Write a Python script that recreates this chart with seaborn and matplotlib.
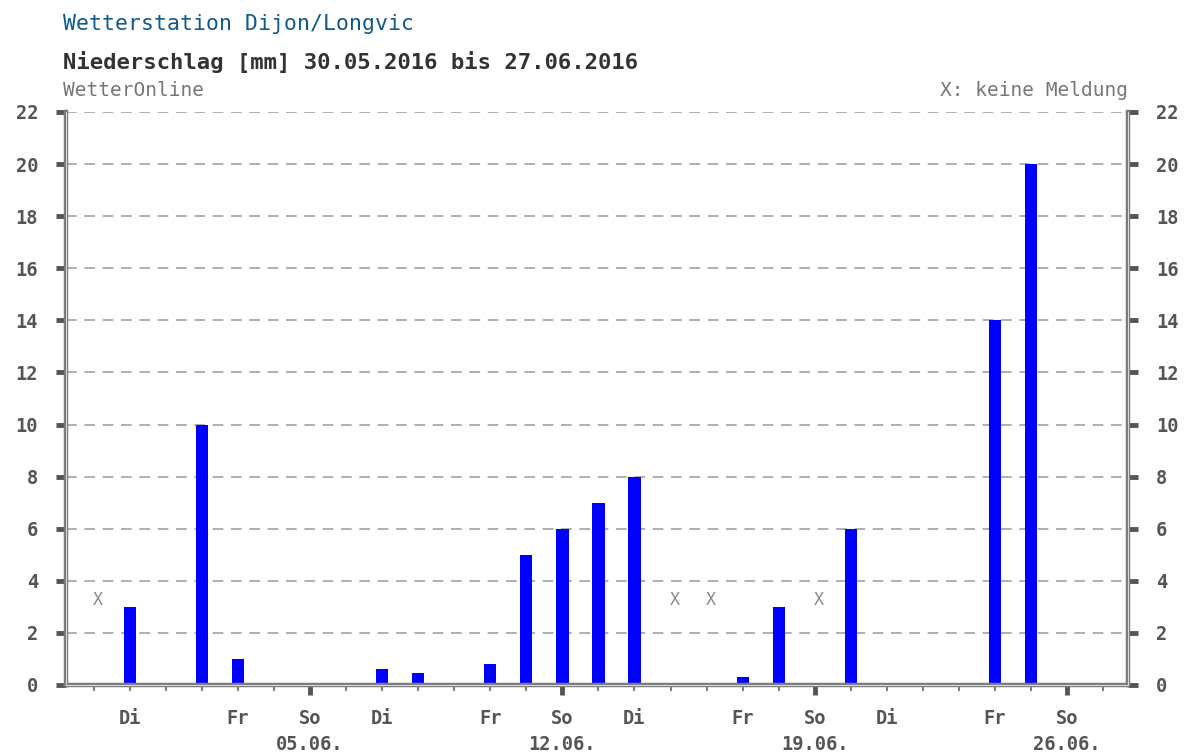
import numpy as np
import pandas as pd
import matplotlib
matplotlib.use("Agg")
import matplotlib.pyplot as plt
from matplotlib.ticker import FixedLocator, FixedFormatter
import seaborn as sns

# ---- data ----
days = ["30.05.", "31.05.", "01.06.", "02.06.", "03.06.", "04.06.", "05.06.",
        "06.06.", "07.06.", "08.06.", "09.06.", "10.06.", "11.06.", "12.06.",
        "13.06.", "14.06.", "15.06.", "16.06.", "17.06.", "18.06.", "19.06.",
        "20.06.", "21.06.", "22.06.", "23.06.", "24.06.", "25.06.", "26.06.",
        "27.06."]
weekdays = ["Mo", "Di", "Mi", "Do", "Fr", "Sa", "So"] * 5
precip = [np.nan, 3.0, 0.0, 10.0, 1.0, 0.0, 0.0,
          0.0, 0.6, 0.45, 0.0, 0.8, 5.0, 6.0,
          7.0, 8.0, np.nan, np.nan, 0.3, 3.0, np.nan,
          6.0, 0.0, 0.0, 0.0, 14.0, 20.0, 0.0,
          0.0]
labelled_days = ["Di", "Fr", "So"]
yticks = list(range(0, 23, 2))

title = "Wetterstation Dijon/Longvic"
subtitle = "Niederschlag [mm] 30.05.2016 bis 27.06.2016"
source = "WetterOnline"
note = "X: keine Meldung"

df = pd.DataFrame({"day": days, "mm": precip, "wd": weekdays[:len(days)]})

sns.set_theme(style="white")
plt.rcParams["font.family"] = ["DejaVu Sans Mono", "DejaVu Sans"]

W, H = 1186, 754
fig = plt.figure(figsize=(W / 100, H / 100), dpi=100)
fig.patch.set_facecolor("white")
ax = fig.add_axes([66 / W, 1 - 685 / H, (1128 - 66) / W, (685 - 112) / H])

sns.barplot(data=df, x="day", y="mm", order=days, color="#0000ff",
            width=0.34, errorbar=None, linewidth=0, saturation=1, ax=ax)

ax.set_xlim(-0.77, len(days) - 1 + 0.69)
ax.set_ylim(0, 22)
ax.set_xlabel("")
ax.set_ylabel("")

# grid
for y in yticks[1:]:
    ax.axhline(y, color="#9a9a9a", lw=1.1, dashes=(7, 5), zorder=0)

# spines
ax.spines["top"].set_visible(False)
for s in ["left", "right", "bottom"]:
    ax.spines[s].set_visible(True)
    ax.spines[s].set_color("#7a7a7a")
    ax.spines[s].set_linewidth(3.2)
    ax.spines[s].set_zorder(5)
# inner light line to mimic double border
x0, x1 = ax.get_xlim()
ax.plot([x0, x0], [0, 22], color="#d8d8d8", lw=0.8, clip_on=False, zorder=6)
ax.plot([x1, x1], [0, 22], color="#d8d8d8", lw=0.8, clip_on=False, zorder=6)
ax.plot([x0, x1], [0, 0], color="#d8d8d8", lw=0.8, clip_on=False, zorder=6)

# y ticks both sides
ax.set_yticks(yticks)
ax.set_yticklabels([str(v) for v in yticks])
ax.tick_params(axis="y", which="major", direction="out", length=7, width=3.5,
               color="#555555", labelcolor="#555555", labelsize=13.5,
               left=True, right=True, labelleft=True, labelright=True, pad=13)
for lab in ax.get_yticklabels():
    lab.set_fontweight("bold")

# x ticks: Sundays major (thick), other days minor (thin)
pos = np.arange(len(days))
sundays = [i for i in pos if df.wd[i] == "So"]
others = [i for i in pos if df.wd[i] != "So"]
ax.xaxis.set_major_locator(FixedLocator(sundays))
ax.xaxis.set_major_formatter(FixedFormatter([f"So\n{days[i]}" for i in sundays]))
ax.xaxis.set_minor_locator(FixedLocator(others))
ax.xaxis.set_minor_formatter(FixedFormatter(
    [df.wd[i] if df.wd[i] in labelled_days else "" for i in others]))
ax.tick_params(axis="x", which="major", direction="out", length=7.5, width=3.5,
               color="#555555", labelcolor="#555555", labelsize=13.5, pad=10,
               bottom=True)
ax.tick_params(axis="x", which="minor", direction="out", length=4, width=1.2,
               color="#666666", labelcolor="#555555", labelsize=13.5, pad=13.5,
               bottom=True)
for lab in ax.get_xticklabels(which="both"):
    lab.set_fontweight("bold")
    lab.set_linespacing(1.45)

# missing markers
for i, v in enumerate(precip):
    if np.isnan(v):
        ax.text(i + 0.12, 3.25, "X", ha="center", va="center",
                color="#8a8a8a", fontsize=12)

# header texts
fig.text(63 / W, 1 - 24 / H, title, color="#0f5a8a", fontsize=15.5,
         ha="left", va="center")
fig.text(63 / W, 1 - 62 / H, subtitle, color="#333333", fontsize=16,
         fontweight="bold", ha="left", va="center")
fig.text(63 / W, 1 - 90 / H, source, color="#777777", fontsize=14,
         ha="left", va="center")
fig.text(1128 / W, 1 - 90 / H, note, color="#777777", fontsize=14,
         ha="right", va="center")

fig.savefig("out.png", dpi=100, facecolor="white")
